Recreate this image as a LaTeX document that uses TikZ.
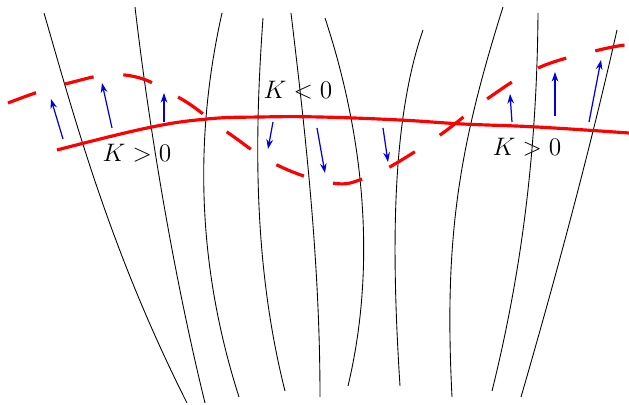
\documentclass[tikz,border=0pt]{standalone}
\usetikzlibrary{arrows.meta}
\definecolor{fg}{RGB}{0,0,0}
\definecolor{frontred}{RGB}{255,0,0}
\definecolor{dispblue}{RGB}{0,0,220}
\tikzset{
  every picture/.style={fg, line join=round,
    >={Stealth[length=5.5pt,width=3.8pt]}},
  every node/.style={font=\Large},
  % Linientypen
  stream/.style={fg, line width=0.5pt},
  front/.style={frontred, line width=1.8pt},
  perturbed/.style={front, dash pattern=on 17pt off 17pt},
  disp/.style={dispblue, line width=0.7pt, ->},
}

\begin{document}
\begin{tikzpicture}[x=0.02cm, y=-0.02cm]
  \useasboundingbox (0,0) rectangle (629,405);
  % Stromlinien
  \draw[stream] (44,13) .. controls (75,120) and (110,250) .. (187,403);
  \draw[stream] (135,7) .. controls (147,110) and (170,260) .. (205,403);
  \draw[stream] (222,13) .. controls (198,120) and (192,250) .. (239,397);
  \draw[stream] (263,18) .. controls (255,130) and (252,260) .. (285,391);
  \draw[stream] (291,13) .. controls (305,130) and (320,260) .. (320,397);
  \draw[stream] (325,18) .. controls (362,130) and (378,260) .. (348,386);
  \draw[stream] (423,30) .. controls (390,125) and (392,260) .. (400,386);
  \draw[stream] (503,7) .. controls (458,150) and (444,240) .. (452,397);
  \draw[stream] (538,13) .. controls (537,150) and (522,270) .. (492,391);
  \draw[stream] (617,30) .. controls (590,150) and (555,280) .. (521,397);
  % ungestoerte Front
  \draw[front] plot[smooth, tension=0.7] coordinates {(57,150) (147,128) (207,119) (260,117) (320,117) (400,120) (463,124) (537,127) (629,133)};
  % gestoerte Front
  \draw[perturbed] plot[smooth, tension=0.7] coordinates {(8,103) (65,84) (125,75) (178,97) (227,132) (277,165) (332,183) (363,179) (388,168) (440,135) (487,99) (538,68) (595,51) (625,45)};
  % Verschiebung der Front
  \draw[disp] (63,139) -- (51,99);
  \draw[disp] (112,128) -- (102,83);
  \draw[disp] (164,122) -- (164,93);
  \draw[disp] (273,122) -- (268,149);
  \draw[disp] (317,128) -- (325,173);
  \draw[disp] (383,128) -- (388,162);
  \draw[disp] (512,122) -- (510,94);
  \draw[disp] (555,116) -- (555,72);
  \draw[disp] (589,122) -- (601,60);
  % Kruemmung
  \node[anchor=base] (kleft) at (137,162) {$K>0$};
  \node[anchor=base] (kmid) at (298,99) {$K<0$};
  \node[anchor=base] (kright) at (527,156) {$K>0$};
\end{tikzpicture}
\end{document}
